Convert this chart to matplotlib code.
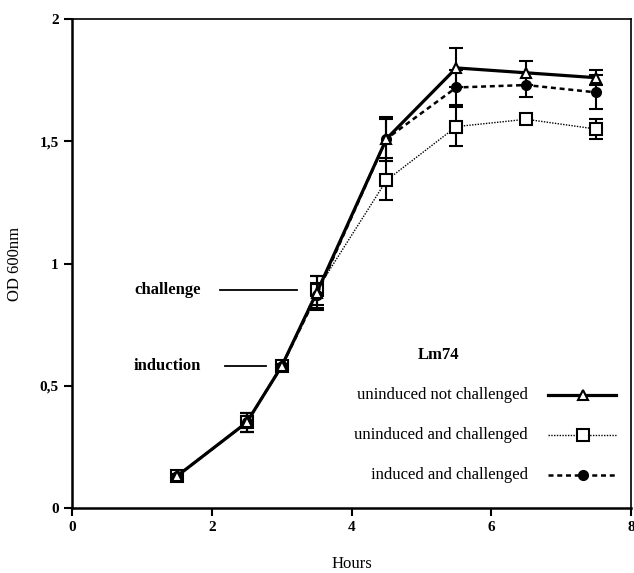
import matplotlib
matplotlib.use('Agg')
import matplotlib.pyplot as plt
import numpy as np

plt.rcParams['font.family'] = ['Liberation Serif', 'DejaVu Serif']

hours = [1.5, 2.5, 3.0, 3.5, 4.5, 5.5, 6.5, 7.5]

od_not_challenged = [0.13, 0.35, 0.58, 0.88, 1.51, 1.80, 1.78, 1.76]
err_not_challenged = [0.01, 0.04, 0.01, 0.07, 0.09, 0.08, 0.05, 0.03]

od_uninduced_chal = [0.13, 0.35, 0.58, 0.89, 1.34, 1.56, 1.59, 1.55]
err_uninduced_chal = [0.01, 0.04, 0.01, 0.06, 0.08, 0.08, 0.02, 0.04]

od_induced_chal = [0.13, 0.35, 0.58, 0.87, 1.51, 1.72, 1.73, 1.70]
err_induced_chal = [0.01, 0.04, 0.01, 0.05, 0.08, 0.07, 0.05, 0.07]

series_labels = ['uninduced not challenged', 'uninduced and challenged', 'induced and challenged']

fig = plt.figure(figsize=(6.34, 5.73), dpi=100)
ax = fig.add_axes([0.1136, 0.1134, 0.8817, 0.8534])

ax.errorbar(hours, od_uninduced_chal, yerr=err_uninduced_chal, color='black', lw=1.0, ls=(0, (1, 1)),
            marker='s', ms=8, mfc='white', mec='black', mew=1.5, capsize=5, elinewidth=1.5, capthick=1.5, zorder=3)
ax.errorbar(hours, od_induced_chal, yerr=err_induced_chal, color='black', lw=1.8, ls=(0, (2, 1.5)),
            marker='o', ms=7, mfc='black', mec='black', capsize=5, elinewidth=1.5, capthick=1.5, zorder=4)
ax.errorbar(hours, od_not_challenged, yerr=err_not_challenged, color='black', lw=2.3, ls='-',
            marker='^', ms=7, mfc='white', mec='black', mew=1.5, capsize=5, elinewidth=1.5, capthick=1.5, zorder=5)

ax.set_xlim(0, 8)
ax.set_ylim(0, 2)
ax.set_xticks([0, 2, 4, 6, 8])
ax.set_yticks([0, 0.5, 1, 1.5, 2])
ax.set_yticklabels(['0', '0,5', '1', '1,5', '2'])
ax.tick_params(direction='out', length=6, width=1.5, labelsize=11)
for lbl in ax.get_xticklabels() + ax.get_yticklabels():
    lbl.set_fontweight('bold')
for s in ['left', 'bottom']:
    ax.spines[s].set_linewidth(1.8)
for s in ['top', 'right']:
    ax.spines[s].set_linewidth(1.2)

ax.set_xlabel('Hours', fontsize=12, labelpad=16)
ax.set_ylabel('OD 600nm', fontsize=12, labelpad=12)

# annotations
ax.text(1.85, 0.89, 'challenge', fontsize=12, fontweight='bold', ha='right', va='center')
ax.plot([2.12, 3.22], [0.89, 0.89], color='black', lw=1.3)
ax.text(1.85, 0.58, 'induction', fontsize=12, fontweight='bold', ha='right', va='center')
ax.plot([2.19, 2.78], [0.58, 0.58], color='black', lw=1.3)

# legend drawn by hand
ax.text(5.24, 0.627, 'Lm74', fontsize=12, fontweight='bold', ha='center', va='center')
leg_y = [0.462, 0.299, 0.135]
leg_styles = [dict(lw=2.3, ls='-', marker='^', ms=7, mfc='white', mew=1.5),
              dict(lw=1.0, ls=(0, (1, 1)), marker='s', ms=8, mfc='white', mew=1.5),
              dict(lw=1.8, ls=(0, (2, 1.5)), marker='o', ms=7, mfc='black')]
for yy, lab, st in zip(leg_y, series_labels, leg_styles):
    ax.text(6.52, yy, lab, fontsize=12, ha='right', va='center')
    ax.plot([6.81, 7.78], [yy, yy], color='black', lw=st['lw'], ls=st['ls'])
    ax.plot([7.31], [yy], color='black', marker=st['marker'], ms=st['ms'], mfc=st['mfc'], mec='black',
            mew=st.get('mew', 1.0), ls='none')

fig.savefig('out.png', dpi=100)
